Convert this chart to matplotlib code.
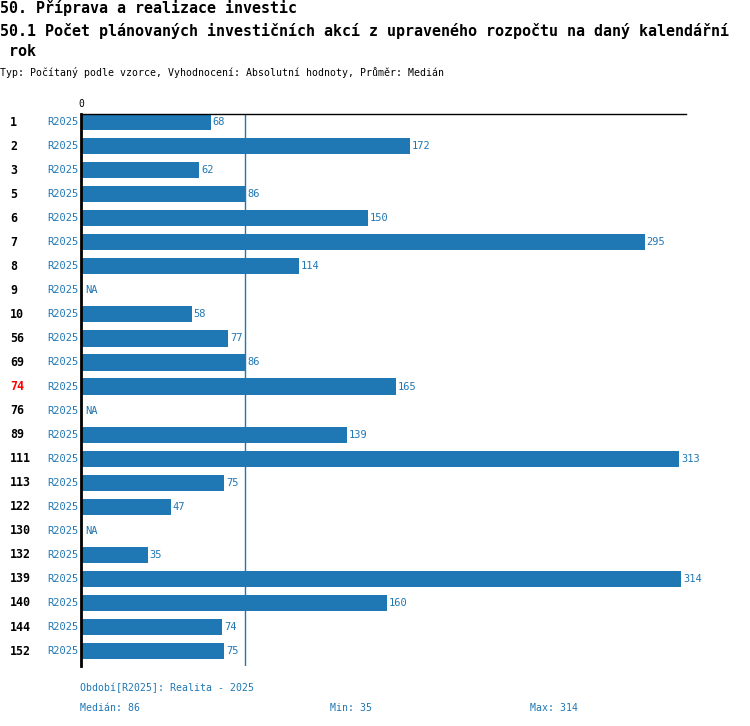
import matplotlib
matplotlib.use("Agg")
import matplotlib.pyplot as plt
import matplotlib.transforms as mtransforms
import numpy as np

categories = ["1", "2", "3", "5", "6", "7", "8", "9", "10", "56", "69", "74", "76",
              "89", "111", "113", "122", "130", "132", "139", "140", "144", "152"]
values = [68, 172, 62, 86, 150, 295, 114, None, 58, 77, 86, 165, None,
          139, 313, 75, 47, None, 35, 314, 160, 74, 75]
period = "R2025"
highlight = "74"
median_val = 86
min_val = 35
max_val = 314

title1 = "50. Příprava a realizace investic"
title2 = "50.1 Počet plánovaných investičních akcí z upraveného rozpočtu na daný kalendářní"
title3 = " rok"
subtitle = "Typ: Počítaný podle vzorce, Vyhodnocení: Absolutní hodnoty, Průměr: Medián"
footer1 = "Období[R2025]: Realita - 2025"

BLUE = "#1f77b4"
W, H = 750, 726
FONT = "DejaVu Sans Mono"

fig = plt.figure(figsize=(W / 100, H / 100), dpi=100)
ax_left, ax_right, ax_top, ax_bot = 81, 686, 114, 666
ax = fig.add_axes([ax_left / W, 1 - ax_bot / H, (ax_right - ax_left) / W, (ax_bot - ax_top) / H])

n = len(categories)
y = np.arange(n)
vals = np.array([np.nan if v is None else v for v in values], dtype=float)
ax.barh(y, np.nan_to_num(vals), height=0.67, color=BLUE, zorder=2)
ax.set_xlim(0, 316.6)
ax.set_ylim(n - 1 + 0.62, -0.333)
ax.axvline(median_val, color=BLUE, lw=1, zorder=1)

for s in ["right", "bottom"]:
    ax.spines[s].set_visible(False)
ax.spines["left"].set_linewidth(2)
ax.spines["left"].set_color("black")
ax.spines["top"].set_linewidth(1)
ax.spines["top"].set_color("black")
ax.set_xticks([])
ax.set_yticks([])

trans_x = mtransforms.blended_transform_factory(fig.transFigure, ax.transData)

for i, (cat, v) in enumerate(zip(categories, vals)):
    ax.text(10 / W, i, cat, transform=trans_x, ha="left", va="center",
            fontsize=8.4, fontweight="bold", family=FONT,
            color="red" if cat == highlight else "black")
    ax.text(78 / W, i, period, transform=trans_x, ha="right", va="center",
            fontsize=7.5, family=FONT, color=BLUE)
    if np.isnan(v):
        ax.text(2, i, "NA", ha="left", va="center", fontsize=7.5, family=FONT, color=BLUE)
    else:
        ax.text(v + 1.0, i, f"{int(v)}", ha="left", va="center", fontsize=7.5,
                family=FONT, color=BLUE)

ax.annotate("0", xy=(0, 1), xycoords=("data", "axes fraction"),
            xytext=(0, 5), textcoords="offset pixels",
            ha="center", va="bottom", fontsize=7, family=FONT, color="black")

fig.text(0, 1 - 8 / H, title1, ha="left", va="center", fontsize=10.8,
         fontweight="bold", family=FONT)
fig.text(0, 1 - 31 / H, title2, ha="left", va="center", fontsize=10.8,
         fontweight="bold", family=FONT)
fig.text(0, 1 - 52 / H, title3, ha="left", va="center", fontsize=10.8,
         fontweight="bold", family=FONT)
fig.text(0, 1 - 73 / H, subtitle, ha="left", va="center", fontsize=7.1, family=FONT)

fig.text(80 / W, 1 - 688 / H, footer1, ha="left", va="center", fontsize=7.1,
         family=FONT, color=BLUE)
fig.text(80 / W, 1 - 708 / H, f"Medián: {median_val}", ha="left", va="center",
         fontsize=7.1, family=FONT, color=BLUE)
fig.text(330 / W, 1 - 708 / H, f"Min: {min_val}", ha="left", va="center",
         fontsize=7.1, family=FONT, color=BLUE)
fig.text(530 / W, 1 - 708 / H, f"Max: {max_val}", ha="left", va="center",
         fontsize=7.1, family=FONT, color=BLUE)

fig.savefig("out.png", dpi=100)
